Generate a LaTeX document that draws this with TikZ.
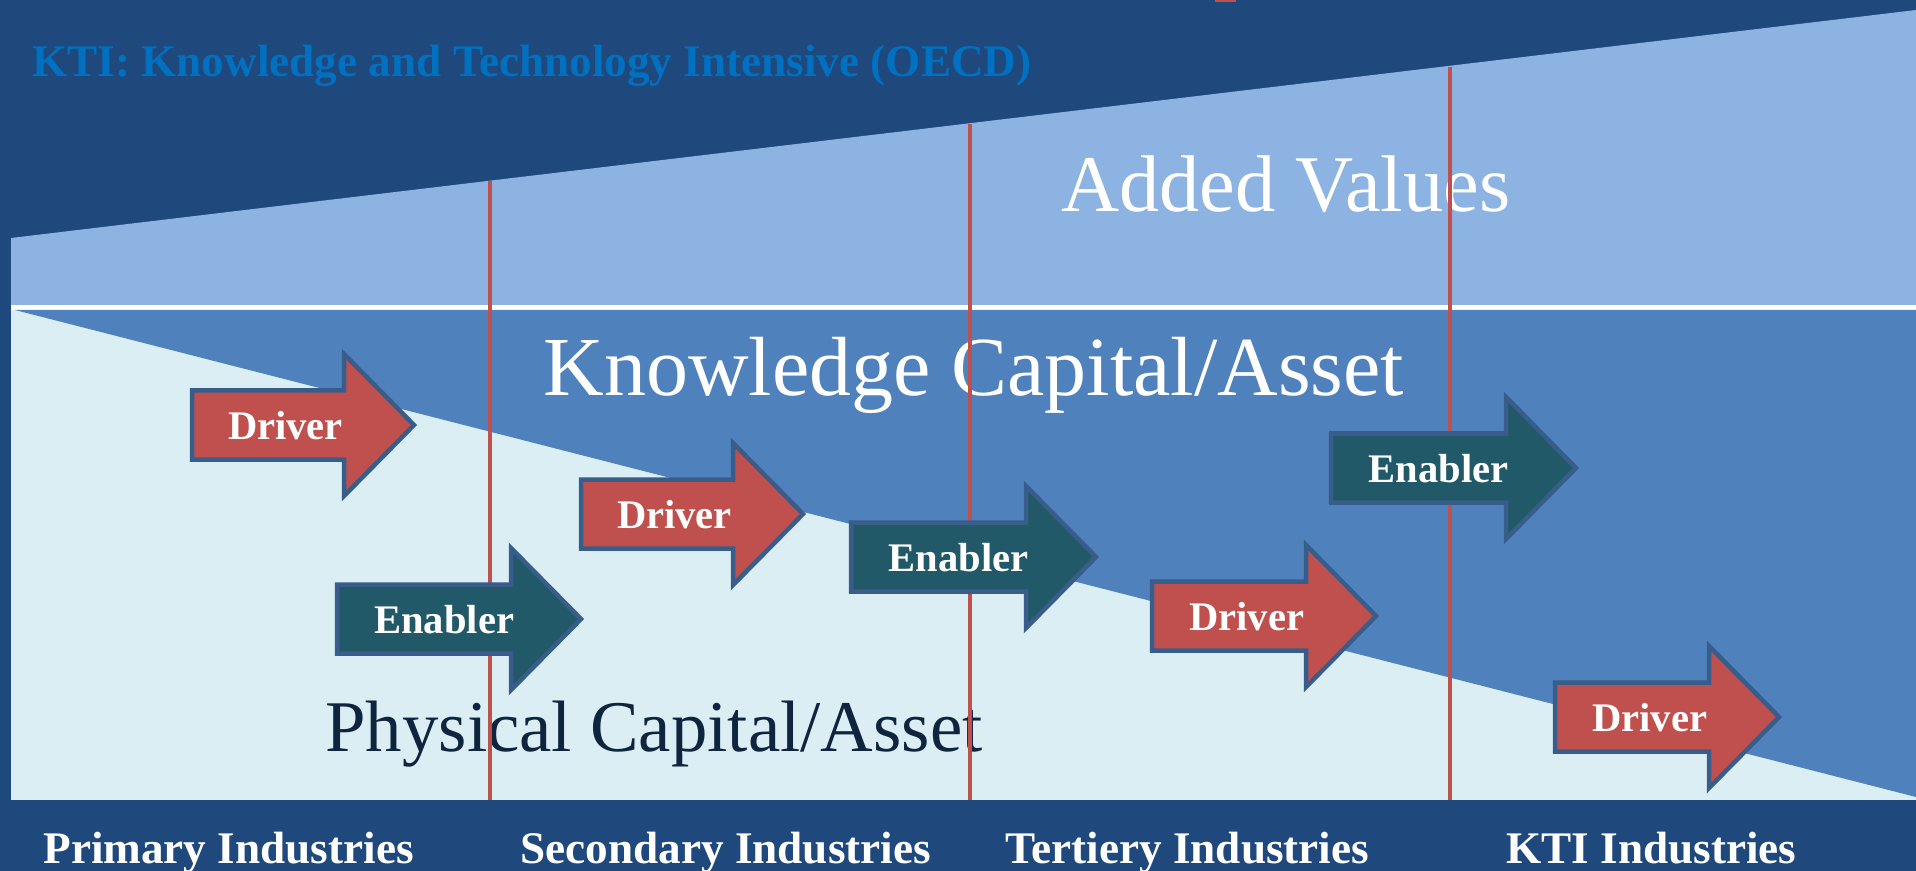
\documentclass[tikz,border=0pt]{standalone}
\usepackage{fontspec}
\setmainfont{Liberation Serif}
\definecolor{navy}{HTML}{1F497D}
\definecolor{skyblue}{HTML}{8DB3E2}
\definecolor{midblue}{HTML}{4F81BD}
\definecolor{paleblue}{HTML}{DAEEF3}
\definecolor{brickred}{HTML}{C0504D}
\definecolor{darkteal}{HTML}{215968}
\definecolor{rimblue}{HTML}{385D8A}
\definecolor{titleblue}{HTML}{0070C0}
\definecolor{inkblue}{HTML}{0F243E}

\begin{document}
\begin{tikzpicture}[x=0.5pt,y=-0.5pt,
  lbl/.style={inner sep=0pt,anchor=base west},
  industry/.style={lbl,text=white,font=\fontsize{22.6}{27}\selectfont\bfseries},
  rim/.style={draw=rimblue,line width=2.25pt},
  driver/.style={rim,fill=brickred},
  enabler/.style={rim,fill=darkteal},
  arrowtext/.style={inner sep=0pt,anchor=base,text=white,font=\fontsize{20.3}{24}\selectfont\bfseries},
  divider/.style={brickred,line width=2.4pt}]
\useasboundingbox (0,0) rectangle (1916,871);
\fill[navy] (0,0) rectangle (1916,871);
\fill[brickred] (1215,0) rectangle (1236,2);
% added values band
\fill[skyblue] (11,238) -- (1916,10) -- (1916,305) -- (11,305) -- cycle;
\fill[white] (11,305) rectangle (1916,310);
% capital/asset area
\fill[paleblue] (11,310) rectangle (1916,800);
\fill[midblue] (15,310) -- (1916,310) -- (1916,797) -- cycle;
% texts
\node[lbl,text=titleblue,font=\fontsize{22.6}{27}\selectfont\bfseries] (kti) at (32,77) {KTI: Knowledge and Technology Intensive (OECD)};
\node[lbl,text=white,font=\fontsize{40.2}{48}\selectfont] (added) at (1061,212) {Added Values};
\node[lbl,text=white,font=\fontsize{42}{50}\selectfont] (knowledge) at (543,396) {Knowledge Capital/Asset};
\node[lbl,text=inkblue,font=\fontsize{36.4}{44}\selectfont] (physical) at (325,751) {Physical Capital/Asset};
% sector borders
\draw[divider] (490,181) -- (490,800);
\draw[divider] (970,124) -- (970,800);
\draw[divider] (1450,67) -- (1450,800);
% block arrows
\foreach \n/\x/\y/\b/\s/\t in {a1/190/425/154/driver/Driver,
    a2/335/619/176/enabler/Enabler,
    a3/579/514/154/driver/Driver,
    a4/849/557/177/enabler/Enabler,
    a5/1150/616/156/driver/Driver,
    a6/1329/468/177/enabler/Enabler,
    a7/1553/717/156/driver/Driver}{
  \draw[\s] (\x+2,\y-34.5) -- (\x+\b,\y-34.5) -- (\x+\b,\y-71) -- (\x+\b+70,\y)
    -- (\x+\b,\y+71) -- (\x+\b,\y+34.5) -- (\x+2,\y+34.5) -- cycle;
  \node[arrowtext] (\n) at (\x+0.62*\b,\y+14.5) {\t};
}
% sectors
\node[industry] (primary) at (43,863) {Primary Industries};
\node[industry] (secondary) at (520,863) {Secondary Industries};
\node[industry] (tertiery) at (1005,863) {Tertiery Industries};
\node[industry] (ktiind) at (1506,863) {KTI Industries};
\end{tikzpicture}
\end{document}
